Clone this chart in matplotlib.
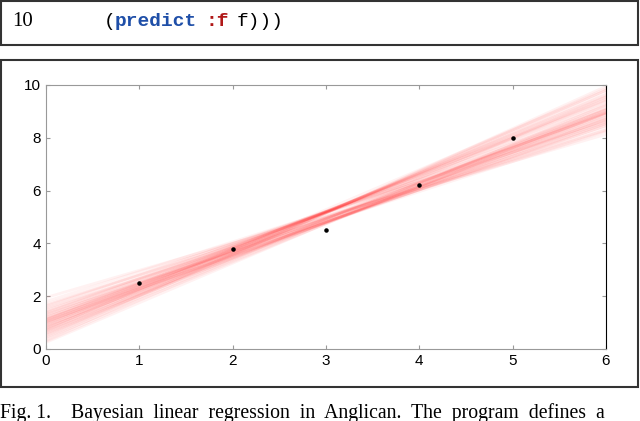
import matplotlib.pyplot as plt
from matplotlib.patches import Rectangle

# observed data
obs_x = [1, 2, 3, 4, 5]
obs_y = [2.5, 3.8, 4.5, 6.2, 8.0]

# posterior samples (intercept, slope)
intercepts = [0.25, 0.35, 0.42, 0.5, 0.55, 0.6, 0.65, 0.7, 0.72, 0.78, 0.8, 0.85,
              0.88, 0.9, 0.95, 0.98, 1.0, 1.02, 1.05, 1.08, 1.1, 1.12, 1.15, 1.18,
              1.2, 1.25, 1.3, 1.35, 1.4, 1.45, 1.5, 1.6, 1.7, 1.8, 1.95, 0.68, 0.92,
              1.03, 1.13, 0.82, 0.45, 0.58, 0.75, 1.28, 1.38, 1.55, 1.65, 0.3]
slopes = [1.50, 1.60, 1.44, 1.55, 1.40, 1.52, 1.38, 1.49, 1.36, 1.47, 1.33, 1.45,
          1.35, 1.30, 1.42, 1.28, 1.40, 1.32, 1.25, 1.38, 1.28, 1.36, 1.22, 1.34,
          1.25, 1.31, 1.18, 1.27, 1.14, 1.24, 1.16, 1.20, 1.10, 1.13, 1.03, 1.40,
          1.42, 1.25, 1.30, 1.37, 1.57, 1.43, 1.51, 1.22, 1.28, 1.12, 1.17, 1.54]

fig = plt.figure(figsize=(6.4, 4.21), dpi=100)
W, H = 640, 421

def fx(px): return px / W
def fy(py): return 1 - py / H

# code line box
fig.patches.append(Rectangle((fx(1), fy(45)), fx(637), 44 / H, transform=fig.transFigure,
                             fill=False, edgecolor='#333333', lw=1.5))
fig.text(fx(12), fy(22), '10', family='Liberation Serif', fontsize=15, va='center')
mono = dict(family='Liberation Mono', fontsize=14, va='center')
fig.text(fx(104), fy(22), '(', **mono)
fig.text(fx(115), fy(22), 'predict', color='#1f4fa8', weight='bold', **mono)
fig.text(fx(205), fy(22), ':f', color='#b01818', weight='bold', **mono)
fig.text(fx(237), fy(22), 'f)))', **mono)

# plot box
fig.patches.append(Rectangle((fx(1), fy(387)), fx(637), 327 / H, transform=fig.transFigure,
                             fill=False, edgecolor='#333333', lw=1.5))

ax = fig.add_axes([fx(46), fy(349), fx(560), 264 / H])
for a, b in zip(intercepts, slopes):
    ax.plot([0, 6], [a, a + 6 * b], color='red', alpha=0.05, lw=2)
ax.scatter(obs_x, obs_y, s=5, color='black', zorder=5)
ax.set_xlim(0, 6)
ax.set_ylim(0, 10)
ax.set_xticks(range(0, 7))
ax.set_yticks(range(0, 11, 2))
for s in ax.spines.values():
    s.set_color('#999999')
ax.spines['right'].set_color('black')
ax.tick_params(direction='in', length=3, color='#999999', labelsize=11, top=True, right=True)
for lab in ax.get_xticklabels() + ax.get_yticklabels():
    lab.set_family('Liberation Sans')

fig.text(fx(0), fy(413), 'Fig. 1.    Bayesian  linear  regression  in  Anglican.  The  program  defines  a',
         family='Liberation Serif', fontsize=14.2, va='center')

fig.savefig('out.png')
